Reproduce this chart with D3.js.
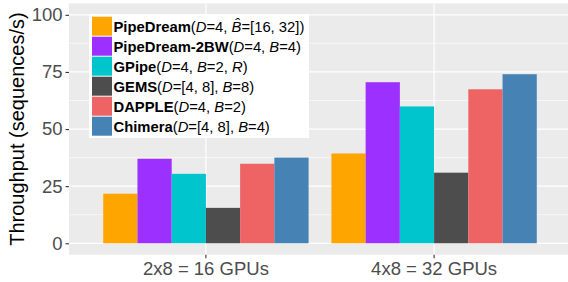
<!DOCTYPE html>
<html>
<head>
<meta charset="utf-8">
<script src="https://cdn.jsdelivr.net/npm/d3@7"></script>
<style>
  body { margin: 0; background: #fff; }
  svg { display: block; font-family: "Liberation Sans", Arial, sans-serif; }
</style>
</head>
<body>
<svg width="568" height="282"></svg>
<script>
const groups = ["2x8 = 16 GPUs", "4x8 = 32 GPUs"];
const series = ["PipeDream", "PipeDream-2BW", "GPipe", "GEMS", "DAPPLE", "Chimera"];
const colors = ["#FFA500", "#9B30FF", "#00C5CD", "#4D4D4D", "#EE6363", "#4682B4"];
// values per series, one per group
const pipedream = [21.7, 39.3];
const pipedream2bw = [37.0, 70.5];
const gpipe = [30.4, 59.9];
const gems = [15.5, 30.9];
const dapple = [34.8, 67.4];
const chimera = [37.5, 74.0];
const yTicks = [0, 25, 50, 75, 100];
// legend labels: [bold name, parts of the parameter text with italic flags]
const legendParts = [
  [["(", false], ["D", true], ["=4, ", false], ["B\u0302", true], ["=[16, 32])", false]],
  [["(", false], ["D", true], ["=4, ", false], ["B", true], ["=4)", false]],
  [["(", false], ["D", true], ["=4, ", false], ["B", true], ["=2, ", false], ["R", true], [")", false]],
  [["(", false], ["D", true], ["=[4, 8], ", false], ["B", true], ["=8)", false]],
  [["(", false], ["D", true], ["=4, ", false], ["B", true], ["=2)", false]],
  [["(", false], ["D", true], ["=[4, 8], ", false], ["B", true], ["=4)", false]]
];

const values = [pipedream, pipedream2bw, gpipe, gems, dapple, chimera];

const svg = d3.select("svg");

const panel = { left: 69, right: 571, top: 3.4, bottom: 254.7 };

const x = d3.scaleBand()
  .domain(groups)
  .range([panel.left, panel.right])
  .paddingInner(0.1)
  .paddingOuter(0.15);

const xInner = d3.scaleBand()
  .domain(series)
  .range([0, x.bandwidth()]);

const y = d3.scaleLinear()
  .domain([-5, 105])
  .range([panel.bottom, panel.top]);

// panel background
svg.append("rect")
  .attr("x", panel.left).attr("y", panel.top)
  .attr("width", panel.right - panel.left)
  .attr("height", panel.bottom - panel.top)
  .attr("fill", "#EBEBEB");

// minor grid
const minor = [12.5, 37.5, 62.5, 87.5];
svg.append("g").selectAll("line")
  .data(minor)
  .join("line")
  .attr("x1", panel.left).attr("x2", panel.right)
  .attr("y1", d => y(d)).attr("y2", d => y(d))
  .attr("stroke", "#fff").attr("stroke-width", 0.6);

// major grid
svg.append("g").selectAll("line")
  .data(yTicks)
  .join("line")
  .attr("x1", panel.left).attr("x2", panel.right)
  .attr("y1", d => y(d)).attr("y2", d => y(d))
  .attr("stroke", "#fff").attr("stroke-width", 1.2);

svg.append("g").selectAll("line")
  .data(groups)
  .join("line")
  .attr("x1", d => x(d) + x.bandwidth() / 2).attr("x2", d => x(d) + x.bandwidth() / 2)
  .attr("y1", panel.top).attr("y2", panel.bottom)
  .attr("stroke", "#fff").attr("stroke-width", 1.2);

// bars
const bars = [];
series.forEach((s, i) => {
  groups.forEach((g, j) => {
    bars.push({ group: g, series: s, value: values[i][j], color: colors[i] });
  });
});

svg.append("g").selectAll("rect")
  .data(bars)
  .join("rect")
  .attr("x", d => x(d.group) + xInner(d.series))
  .attr("width", xInner.bandwidth())
  .attr("y", d => y(d.value))
  .attr("height", d => y(0) - y(d.value))
  .attr("fill", d => d.color);

// y axis
const yAxis = svg.append("g")
  .attr("transform", `translate(${panel.left},0)`)
  .call(d3.axisLeft(y).tickValues(yTicks).tickSize(3.5).tickPadding(3));
yAxis.select(".domain").remove();
yAxis.selectAll(".tick line").attr("stroke", "#333").attr("stroke-width", 1.1);
yAxis.selectAll(".tick text")
  .attr("fill", "#4D4D4D")
  .style("font-size", "18.5px")
  .style("font-family", "Liberation Sans, Arial, sans-serif");

// x axis
const xAxis = svg.append("g")
  .attr("transform", `translate(0,${panel.bottom})`)
  .call(d3.axisBottom(x).tickSize(3.5).tickPadding(4));
xAxis.select(".domain").remove();
xAxis.selectAll(".tick line").attr("stroke", "#333").attr("stroke-width", 1.1);
xAxis.selectAll(".tick text")
  .attr("fill", "#4D4D4D")
  .style("font-size", "18.5px")
  .style("font-family", "Liberation Sans, Arial, sans-serif");

// y title
svg.append("text")
  .attr("transform", `translate(23.5,${(panel.top + panel.bottom) / 2}) rotate(-90)`)
  .attr("text-anchor", "middle")
  .style("font-size", "20px")
  .attr("fill", "#000")
  .text("Throughput (sequences/s)");

// legend
const legend = svg.append("g");
legend.append("rect")
  .attr("x", 89).attr("y", 14)
  .attr("width", 220).attr("height", 124)
  .attr("fill", "#fff");

const keySize = 20;
series.forEach((s, i) => {
  const ky = 16.7 + i * keySize;
  legend.append("rect")
    .attr("x", 92).attr("y", ky)
    .attr("width", 20).attr("height", keySize - 1)
    .attr("fill", colors[i]);
  const t = legend.append("text")
    .attr("x", 113.5).attr("y", ky + 15)
    .style("font-size", "14.8px")
    .attr("fill", "#000");
  t.append("tspan").attr("font-weight", "bold").text(s);
  legendParts[i].forEach(([txt, it]) => {
    t.append("tspan").attr("font-style", it ? "italic" : "normal").text(txt);
  });
});
</script>
</body>
</html>
